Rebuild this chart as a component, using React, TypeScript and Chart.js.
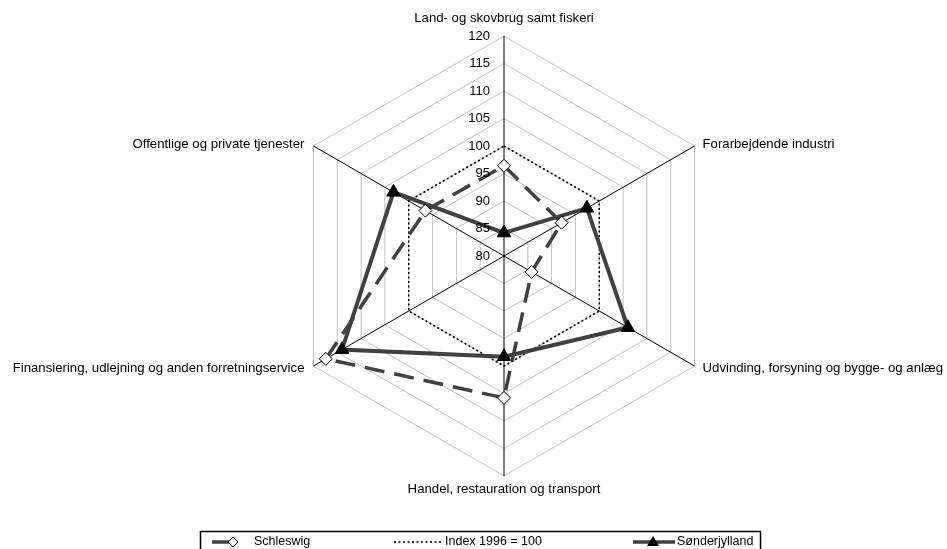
import React, { useEffect, useRef } from 'react';
import { Chart, registerables } from 'chart.js';

Chart.register(...registerables);

const categories = [
  'Land- og skovbrug samt fiskeri',
  'Forarbejdende industri',
  'Udvinding, forsyning og bygge- og anlæg',
  'Handel, restauration og transport',
  'Finansiering, udlejning og anden forretningservice',
  'Offentlige og private tjenester',
];
const schleswig = [96.4, 92.1, 85.8, 105.8, 117.4, 96.5];
const index1996 = [100, 100, 100, 100, 100, 100];
const soenderjylland = [84.2, 97.4, 106.0, 98.3, 114.0, 103.2];
const tickValues = [80, 85, 90, 95, 100, 105, 110, 115, 120];
const seriesNames = ['Schleswig', 'Index 1996 = 100', 'Sønderjylland'];

const FONT = '"Liberation Sans", Arial, Helvetica, sans-serif';
const SERIES_COLOR = '#404040';

const overlay = {
  id: 'overlay',
  afterDraw(chart: any) {
    const ctx = chart.ctx as CanvasRenderingContext2D;
    const s = chart.scales.r;
    const cx = s.xCenter;
    ctx.save();
    ctx.fillStyle = '#000';
    ctx.font = `13px ${FONT}`;
    ctx.textAlign = 'right';
    ctx.textBaseline = 'middle';
    tickValues.forEach((v) => {
      const p = s.getPointPositionForValue(0, v);
      ctx.fillText(String(v), cx - 14, p.y);
    });

    ctx.font = `13.2px ${FONT}`;
    categories.forEach((c, i) => {
      const p = s.getPointPositionForValue(i, s.max);
      let x = p.x;
      let y = p.y;
      if (i === 0) {
        ctx.textAlign = 'center';
        y = p.y - 17.5;
      } else if (i === 3) {
        ctx.textAlign = 'center';
        y = p.y + 13;
      } else if (i === 1 || i === 2) {
        ctx.textAlign = 'left';
        x = p.x + 8;
        y = p.y + (i === 1 ? -2 : 2);
      } else {
        ctx.textAlign = 'right';
        x = p.x - 9;
        y = p.y + (i === 5 ? -2 : 2);
      }
      ctx.fillText(c, x, y);
    });

    // legend box
    ctx.lineWidth = 1.5;
    ctx.strokeStyle = '#000';
    ctx.strokeRect(200.5, 531.5, 560, 40);
    const ly = 542;
    ctx.font = `12.5px ${FONT}`;
    ctx.textAlign = 'left';
    ctx.textBaseline = 'middle';

    // Schleswig
    ctx.strokeStyle = SERIES_COLOR;
    ctx.lineWidth = 3.5;
    ctx.beginPath();
    ctx.moveTo(212, ly);
    ctx.lineTo(229, ly);
    ctx.stroke();
    ctx.beginPath();
    ctx.moveTo(233, ly - 5);
    ctx.lineTo(238, ly);
    ctx.lineTo(233, ly + 5);
    ctx.lineTo(228, ly);
    ctx.closePath();
    ctx.fillStyle = '#fff';
    ctx.fill();
    ctx.lineWidth = 1;
    ctx.strokeStyle = '#000';
    ctx.stroke();
    ctx.fillStyle = '#000';
    ctx.fillText(seriesNames[0], 254, ly);

    // Index
    ctx.setLineDash([2, 2.5]);
    ctx.lineWidth = 1.5;
    ctx.beginPath();
    ctx.moveTo(394, ly);
    ctx.lineTo(443, ly);
    ctx.stroke();
    ctx.setLineDash([]);
    ctx.fillText(seriesNames[1], 445, ly);

    // Sønderjylland
    ctx.strokeStyle = SERIES_COLOR;
    ctx.lineWidth = 3.5;
    ctx.beginPath();
    ctx.moveTo(633, ly);
    ctx.lineTo(675, ly);
    ctx.stroke();
    ctx.beginPath();
    ctx.moveTo(653, ly - 6);
    ctx.lineTo(659, ly + 4);
    ctx.lineTo(647, ly + 4);
    ctx.closePath();
    ctx.fillStyle = '#000';
    ctx.fill();
    ctx.fillText(seriesNames[2], 677, ly);

    ctx.restore();
  },
};

export default function App() {
  const canvasRef = useRef<HTMLCanvasElement | null>(null);

  useEffect(() => {
    if (!canvasRef.current) return;
    const chart = new Chart(canvasRef.current, {
      type: 'radar',
      data: {
        labels: categories,
        datasets: [
          {
            label: seriesNames[0],
            data: schleswig,
            borderColor: SERIES_COLOR,
            borderWidth: 3.5,
            borderDash: [20, 10],
            backgroundColor: 'rgba(0,0,0,0)',
            fill: false,
            tension: 0,
            pointStyle: 'rectRot',
            pointRadius: 6.5,
            pointBackgroundColor: '#fff',
            pointBorderColor: '#000',
            pointBorderWidth: 1,
            order: 0,
          },
          {
            label: seriesNames[1],
            data: index1996,
            borderColor: '#000',
            borderWidth: 1.5,
            borderDash: [2, 2.5],
            backgroundColor: 'rgba(0,0,0,0)',
            fill: false,
            tension: 0,
            pointRadius: 0,
            order: 2,
          },
          {
            label: seriesNames[2],
            data: soenderjylland,
            borderColor: SERIES_COLOR,
            borderWidth: 4,
            backgroundColor: 'rgba(0,0,0,0)',
            fill: false,
            tension: 0,
            pointStyle: 'triangle',
            pointRadius: 7.8,
            pointBackgroundColor: '#000',
            pointBorderColor: '#000',
            pointBorderWidth: 1,
            order: 1,
          },
        ],
      },
      options: {
        responsive: true,
        maintainAspectRatio: false,
        animation: false,
        layout: { padding: { top: 36, bottom: 73, left: 62, right: 0 } },
        plugins: {
          legend: { display: false },
          tooltip: { enabled: false },
        },
        scales: {
          r: {
            min: 80,
            max: 120,
            ticks: { display: false, stepSize: 5 },
            pointLabels: { display: false },
            grid: { circular: false, color: '#c0c0c0', lineWidth: 1 },
            angleLines: { color: '#000', lineWidth: 1 },
          },
        },
      },
      plugins: [overlay],
    });
    return () => chart.destroy();
  }, []);

  return (
    <div style={{ position: 'absolute', left: 0, top: 0, width: 947, height: 549, background: '#fff' }}>
      <canvas ref={canvasRef} />
    </div>
  );
}
